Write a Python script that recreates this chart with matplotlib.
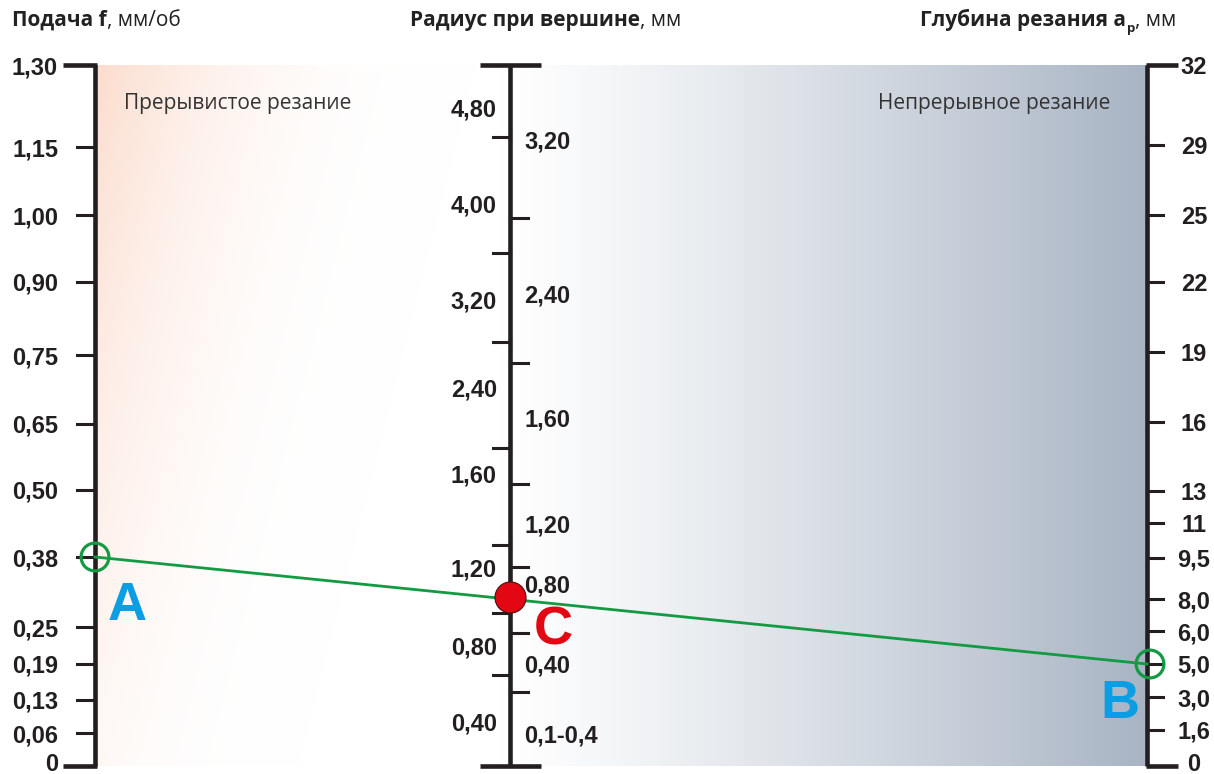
import numpy as np
import matplotlib.pyplot as plt

# --- nomogram data (pixel layout of the original sheet) ---
feed_labels = ['1,30', '1,15', '1,00', '0,90', '0,75', '0,65', '0,50', '0,38', '0,25', '0,19', '0,13', '0,06', '0']
feed_pos = [65, 147, 215, 282, 355, 424, 490, 557, 627, 664, 700, 733, 766]

rad_left_labels = ['4,80', '4,00', '3,20', '2,40', '1,60', '1,20', '0,80', '0,40']
rad_left_pos = [107, 203, 300, 388, 473, 567, 645, 722]
rad_left_ticks = [137, 253, 342, 448, 545, 613, 675]

rad_right_labels = ['3,20', '2,40', '1,60', '1,20', '0,80', '0,40', '0,1-0,4']
rad_right_pos = [139, 293, 418, 523, 583, 663, 733]
rad_right_ticks = [218, 363, 484, 567, 633, 692]

depth_labels = ['32', '29', '25', '22', '19', '16', '13', '11', '9,5', '8,0', '6,0', '5,0', '3,0', '1,6', '0']
depth_pos = [65, 145, 215, 282, 352, 422, 491, 523, 558, 599, 631, 664, 697, 730, 766]

x_feed, x_rad, x_depth = 95, 510, 1147
y_top, y_bot = 65, 766
point_A = 557   # f = 0,38
point_B = 664   # ap = 5,0

W, H = 1214, 774
fig = plt.figure(figsize=(W / 100, H / 100), dpi=100)
ax = fig.add_axes([0, 0, 1, 1])
ax.set_xlim(0, W)
ax.set_ylim(H, 0)
ax.axis('off')

# background gradient
xs = np.linspace(x_feed, x_depth, 600)
ys = np.linspace(y_top, y_bot, 400)
X, Y = np.meshgrid(xs, ys)
wp = np.clip(1 - (X - x_feed) / 380 - (Y - y_top) / 1500, 0, 1) ** 2.5
wb = np.clip((X - 500) / (x_depth - 500), 0, 1) ** 1.2
peach = np.array([252, 220, 205]) / 255
blue = np.array([168, 180, 196]) / 255
img = np.ones(X.shape + (3,))
img = img * (1 - wp[..., None]) + peach * wp[..., None]
img = img * (1 - wb[..., None]) + blue * wb[..., None]
ax.imshow(img, extent=[x_feed, x_depth, y_bot, y_top], aspect='auto', zorder=0)

axc = '#231f20'
lw_axis = 3.3
lw_tick = 2.2
tick_font = dict(family='Liberation Sans', weight='bold', fontsize=17, color=axc)

# feed axis
ax.plot([x_feed, x_feed], [y_top, y_bot], color=axc, lw=lw_axis, solid_capstyle='butt', zorder=3)
for lab, y in zip(feed_labels, feed_pos):
    if y in (y_top, y_bot):
        ax.plot([63, x_feed + 1.5], [y, y], color=axc, lw=lw_axis, solid_capstyle='butt', zorder=3)
    else:
        ax.plot([77, x_feed], [y, y], color=axc, lw=lw_tick, zorder=3)
    ax.text(58, min(y, 762), lab, ha='right', va='center_baseline', **tick_font)

# radius axis
ax.plot([x_rad, x_rad], [y_top, y_bot], color=axc, lw=lw_axis, solid_capstyle='butt', zorder=3)
for y in (y_top, y_bot):
    ax.plot([480, 541], [y, y], color=axc, lw=lw_axis, solid_capstyle='butt', zorder=3)
for y in rad_left_ticks:
    ax.plot([493, x_rad], [y, y], color=axc, lw=lw_tick, zorder=3)
for y in rad_right_ticks:
    ax.plot([x_rad, 528], [y, y], color=axc, lw=lw_tick, zorder=3)
for lab, y in zip(rad_left_labels, rad_left_pos):
    ax.text(497, y, lab, ha='right', va='center_baseline', **tick_font)
for lab, y in zip(rad_right_labels, rad_right_pos):
    ax.text(524, y, lab, ha='left', va='center_baseline', **tick_font)

# depth axis
ax.plot([x_depth, x_depth], [y_top, y_bot], color=axc, lw=lw_axis, solid_capstyle='butt', zorder=3)
for lab, y in zip(depth_labels, depth_pos):
    if y in (y_top, y_bot):
        ax.plot([x_depth - 1.5, 1178], [y, y], color=axc, lw=lw_axis, solid_capstyle='butt', zorder=3)
    else:
        ax.plot([x_depth, 1163], [y, y], color=axc, lw=lw_tick, zorder=3)
    ax.text(1194, min(y, 762), lab, ha='center', va='center_baseline', **tick_font)

# region captions
cap = dict(family='Open Sans', fontsize=15, color='#333333', va='center')
ax.text(124, 103, 'Прерывистое резание', ha='left', **cap)
ax.text(1110, 103, 'Непрерывное резание', ha='right', **cap)

# axis titles
tf = dict(family='Open Sans', fontsize=15, color='#222222')
t = ax.text(12, 31, 'Подача f', weight='bold', va='bottom', **tf)
ax.annotate(', мм/об', xy=(1, 0), xycoords=t, ha='left', va='bottom', **tf)
t = ax.text(410, 31, 'Радиус при вершине', weight='bold', va='bottom', **tf)
ax.annotate(', мм', xy=(1, 0), xycoords=t, ha='left', va='bottom', **tf)
t = ax.text(920, 31, 'Глубина резания a', weight='bold', va='bottom', **tf)
ts = ax.annotate('p', xy=(1, 0), xycoords=t, xytext=(0.5, -3), textcoords='offset points',
                 family='Open Sans', weight='bold', fontsize=9.5, color='#222222', va='bottom')
ax.annotate(', мм', xy=(1, 0), xycoords=ts, xytext=(0, 3), textcoords='offset points',
            ha='left', va='bottom', **tf)

# construction line A - C - B
slope = (point_B - point_A) / (x_depth - x_feed)
point_C = point_A + slope * (x_rad - x_feed)
green = '#139a43'
ax.plot([x_feed, x_depth], [point_A, point_B], color=green, lw=2.0, zorder=4)
ax.scatter([x_feed, x_depth + 3], [point_A, point_B], s=400, facecolors='none',
           edgecolors=green, linewidths=2.3, zorder=5)
ax.scatter([x_rad], [point_C - 2], s=500, color='#e30613', edgecolors='#4a1010', linewidths=0.8, zorder=6)

letter = dict(family='Liberation Sans', weight='bold', fontsize=39, ha='center', va='center_baseline')
ax.text(127, 601, 'A', color='#0b9ee3', **letter)
ax.text(1120, 698, 'B', color='#0b9ee3', **letter)
ax.text(553, 625, 'C', color='#e30613', **letter)

fig.savefig('out.png', dpi=100, facecolor='white')
